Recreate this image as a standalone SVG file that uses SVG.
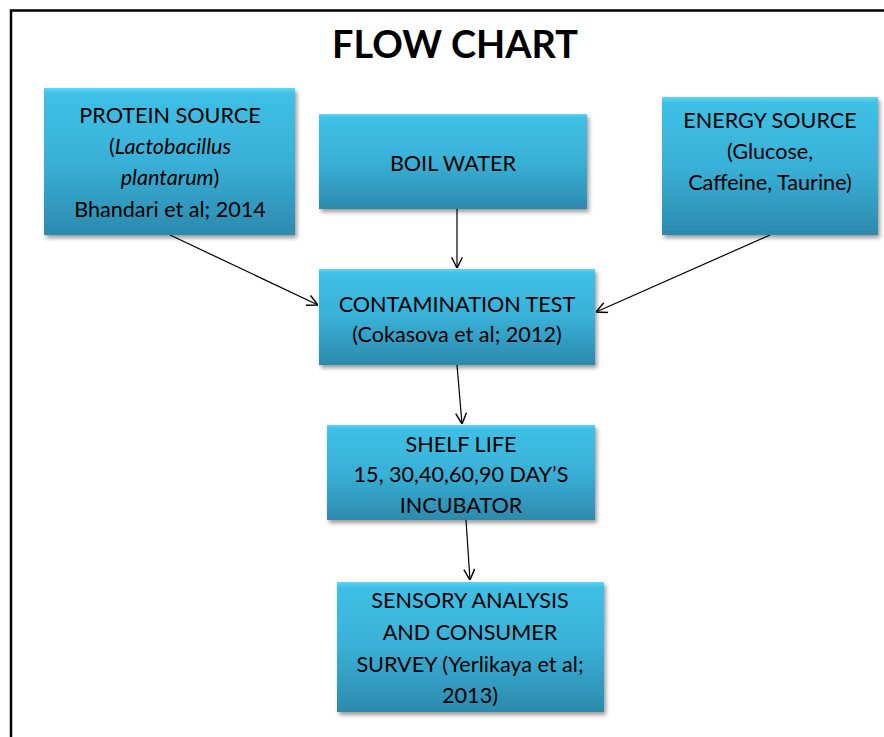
<svg xmlns="http://www.w3.org/2000/svg" width="884" height="737" viewBox="0 0 884 737">
<defs>
<linearGradient id="g" x1="0" y1="0" x2="0" y2="1">
<stop offset="0" stop-color="#5fd6f2"/>
<stop offset="0.04" stop-color="#3fc0e6"/>
<stop offset="0.5" stop-color="#39b0d7"/>
<stop offset="1" stop-color="#2c8aad"/>
</linearGradient>
<filter id="sh" x="-10%" y="-10%" width="125%" height="130%">
<feDropShadow dx="2" dy="3" stdDeviation="2" flood-color="#000" flood-opacity="0.4"/>
</filter>
<marker id="ah" markerWidth="12" markerHeight="12" refX="10" refY="5" orient="auto" markerUnits="userSpaceOnUse" viewBox="0 0 10 10">
<path d="M1,0.5 L10,5 L1,9.5" fill="none" stroke="#000" stroke-width="1.2"/>
</marker>
</defs>
<style>
.box{fill:url(#g);filter:url(#sh);}
.t{font-family:Lato,"Noto Sans","Liberation Sans",sans-serif;font-size:21.6px;fill:#000;text-anchor:middle;}
.c{stroke:#000;stroke-width:1.2;fill:none;marker-end:url(#ah);}
</style>
<rect width="884" height="737" fill="#fff"/>
<path d="M11,737 L11,10.5 L884,10.5" fill="none" stroke="#000" stroke-width="2.5"/>
<text x="455" y="58" font-family="Lato,'Noto Sans','Liberation Sans',sans-serif" font-weight="bold" font-size="38" text-anchor="middle" textLength="246" lengthAdjust="spacingAndGlyphs">FLOW CHART</text>
<g id="connectors">
<line class="c" x1="170" y1="235" x2="318" y2="305"/>
<line class="c" x1="457" y1="209" x2="457" y2="268"/>
<line class="c" x1="770" y1="235" x2="596" y2="312"/>
<line class="c" x1="457" y1="365" x2="462" y2="424"/>
<line class="c" x1="466" y1="520" x2="470" y2="580"/>
</g>
<g id="protein">
<rect class="box" x="44" y="88" width="251" height="147"/>
<text class="t" x="170" y="123">PROTEIN SOURCE</text>
<text class="t" x="170" y="154">(<tspan font-style="italic">Lactobacillus</tspan></text>
<text class="t" x="170" y="185"><tspan font-style="italic">plantarum</tspan>)</text>
<text class="t" x="170" y="217">Bhandari et al; 2014</text>
</g>
<g id="boil">
<rect class="box" x="319" y="114" width="268" height="95"/>
<text class="t" x="453" y="171">BOIL WATER</text>
</g>
<g id="energy">
<rect class="box" x="662" y="97" width="216" height="138"/>
<text class="t" x="770" y="128">ENERGY SOURCE</text>
<text class="t" x="770" y="159">(Glucose,</text>
<text class="t" x="770" y="190">Caffeine, Taurine)</text>
</g>
<g id="contamination">
<rect class="box" x="319" y="269" width="276" height="96"/>
<text class="t" x="457" y="312">CONTAMINATION TEST</text>
<text class="t" x="457" y="342">(Cokasova et al; 2012)</text>
</g>
<g id="shelf">
<rect class="box" x="327" y="425" width="268" height="95"/>
<text class="t" x="461" y="452">SHELF LIFE</text>
<text class="t" x="461" y="482">15, 30,40,60,90 DAY’S</text>
<text class="t" x="461" y="513">INCUBATOR</text>
</g>
<g id="sensory">
<rect class="box" x="337" y="582" width="267" height="130"/>
<text class="t" x="470" y="608">SENSORY ANALYSIS</text>
<text class="t" x="470" y="640">AND CONSUMER</text>
<text class="t" x="470" y="672">SURVEY (Yerlikaya et al;</text>
<text class="t" x="470" y="703">2013)</text>
</g>
</svg>
